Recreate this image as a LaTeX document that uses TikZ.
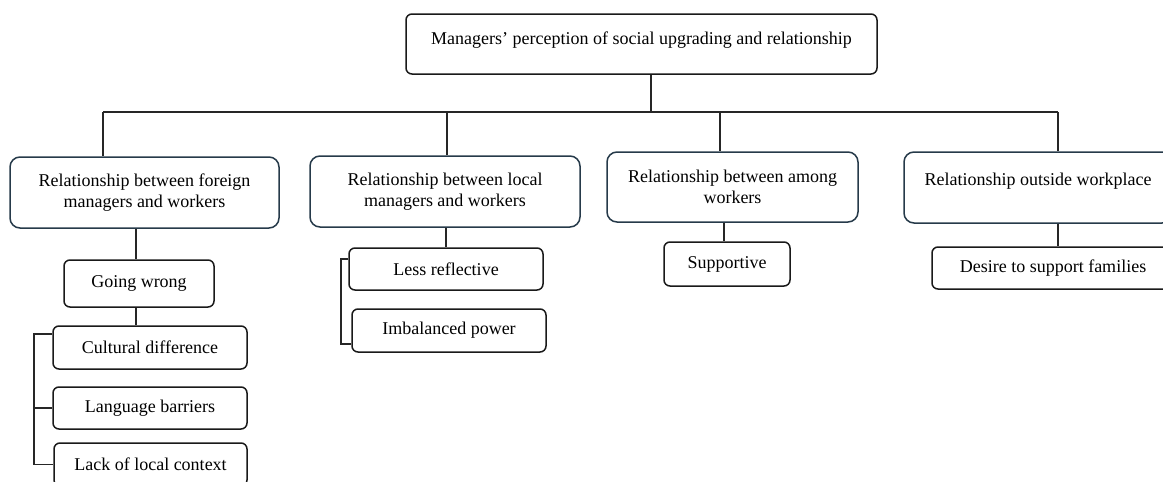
\documentclass[tikz,border=0pt]{standalone}
\usepackage{fontspec}
\setmainfont{Liberation Serif}
\usetikzlibrary{calc}
\definecolor{bigline}{RGB}{38,58,74}
\begin{document}
\begin{tikzpicture}[x=1pt,y=-1pt,
  font=\fontsize{18}{20.5}\selectfont,
  bigbox/.style={draw=bigline,line width=1.5pt,rounded corners=10pt,align=center,inner sep=0pt},
  smallbox/.style={draw=black!90,line width=1.5pt,rounded corners=6pt,align=center,inner sep=0pt},
  conn/.style={draw=black!85,line width=1.6pt}]
\useasboundingbox (0,0) rectangle (1163,482);
\clip (0,0) rectangle (1163,482);
% main boxes
\node[smallbox,minimum width=471pt,minimum height=60pt,text height=12pt,text depth=12pt] (top) at (641.5,44) {Managers’ perception of social upgrading and relationship};
\node[bigbox,minimum width=269pt,minimum height=71pt] (b1) at (144.5,192.5) {Relationship between foreign\\managers and workers};
\node[bigbox,minimum width=270pt,minimum height=71pt] (b2) at (445,191.5) {Relationship between local\\managers and workers};
\node[bigbox,minimum width=251pt,minimum height=70pt] (b3) at (732.5,187) {Relationship between among\\workers};
\node[bigbox,minimum width=268pt,minimum height=71pt,text height=12pt,text depth=16pt] (b4) at (1038,187.5) {Relationship outside workplace};
% sub boxes
\node[smallbox,minimum width=150pt,minimum height=47pt] (gw) at (139,283.5) {Going wrong};
\node[smallbox,minimum width=194pt,minimum height=43pt] (cd) at (150,347.5) {Cultural difference};
\node[smallbox,minimum width=194pt,minimum height=42pt] (lb) at (150,408) {Language barriers};
\node[smallbox,minimum width=193pt,minimum height=43pt] (lc) at (150.5,464.5) {Lack of local context};
\node[smallbox,minimum width=194pt,minimum height=42pt] (lr) at (446,269) {Less reflective};
\node[smallbox,minimum width=194pt,minimum height=43pt] (ip) at (449,330.5) {Imbalanced power};
\node[smallbox,minimum width=126pt,minimum height=44pt] (sp) at (727,264) {Supportive};
\node[smallbox,minimum width=242pt,minimum height=42pt] (df) at (1053,268) {Desire to support families};
% bus
\coordinate (m) at (651,112);
\coordinate (d1) at (103,112);
\coordinate (d2) at (447,112);
\coordinate (d3) at (720,112);
\coordinate (d4) at (1058,112);
\coordinate (x1) at (136,0);
\coordinate (x2) at (446,0);
\coordinate (x3) at (724,0);
\coordinate (x4) at (1058,0);
\draw[conn] (top.south -| m) -- (m);
\draw[conn] (d1) -- (d4);
\draw[conn] (d1) -- (d1 |- b1.north);
\draw[conn] (d2) -- (d2 |- b2.north);
\draw[conn] (d3) -- (d3 |- b3.north);
\draw[conn] (d4) -- (d4 |- b4.north);
% children
\draw[conn] (b1.south -| x1) -- (gw.north -| x1);
\draw[conn] (gw.south -| x1) -- (cd.north -| x1);
\draw[conn] ($(cd.north west)+(0,9)$) -- ++(-18,0) |- (lc.west);
\draw[conn] (lb.west) -- ++(-18,0);
\draw[conn] (b2.south -| x2) -- (lr.north -| x2);
\draw[conn] ($(lr.north west)+(0,12)$) -- ++(-7,0) |- ($(ip.south west)+(0,-9)$);
\draw[conn] (b3.south -| x3) -- (sp.north -| x3);
\draw[conn] (b4.south -| x4) -- (df.north -| x4);
\end{tikzpicture}
\end{document}
